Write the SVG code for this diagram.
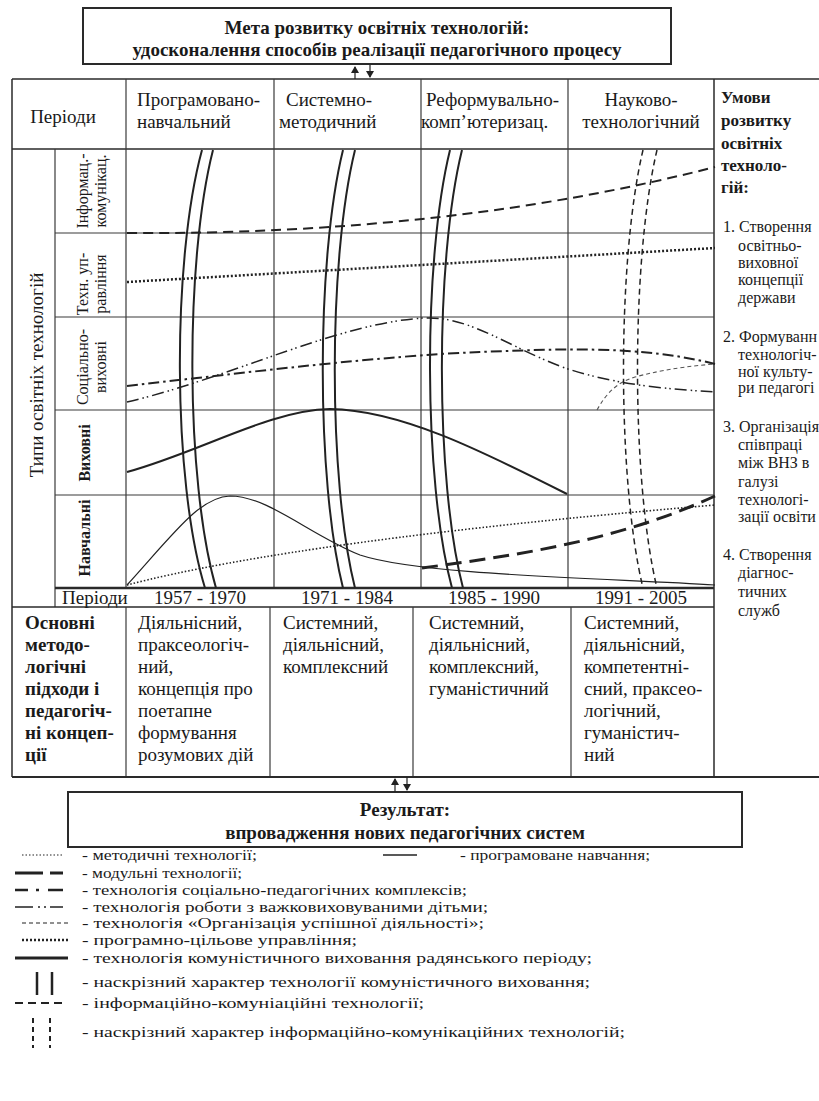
<svg xmlns="http://www.w3.org/2000/svg" width="819" height="1101" viewBox="0 0 819 1101">
<defs>
<style>
text{font-family:"Liberation Serif","DejaVu Serif",serif;fill:#1a1a1a}
.t19{font-size:19px}
.b19{font-size:19px;font-weight:bold}
.b17{font-size:17px;font-weight:bold}
.l16{font-size:16px}
.lg{font-size:15px}
.s16{font-size:16px}
.mid{text-anchor:middle}
.frame{fill:none;stroke:#2a2a2a;stroke-width:1.5}
.grid{stroke:#3a3a3a;stroke-width:1.2;fill:none}
.thick{stroke:#2a2a2a;stroke-width:2.5;fill:none}
.c{fill:none;stroke:#222}
.ict{stroke-width:2;stroke-dasharray:10 6}
.mgmt{stroke-width:2.5;stroke-dasharray:2 2}
.social{stroke-width:2;stroke-dasharray:11 4 2.5 4}
.hard{stroke-width:1.5;stroke-dasharray:12 4 1.5 3 1.5 4}
.success{stroke-width:1.1;stroke-dasharray:4 3;stroke:#555}
.commun{stroke-width:2}
.prog{stroke-width:1.2}
.method{stroke-width:1.6;stroke-dasharray:1.5 2}
.modul{stroke-width:3;stroke-dasharray:16 8}
.thr{stroke-width:2}
.thrict{stroke-width:1.5;stroke-dasharray:6 4}
.arr{stroke:#222;stroke-width:1.2;fill:none}
</style>
<marker id="ah" markerWidth="8" markerHeight="8" refX="6" refY="4" orient="auto" markerUnits="userSpaceOnUse">
<path d="M0,0 L7,4 L0,8 Z" fill="#222"/>
</marker>
</defs>
<rect width="819" height="1101" fill="#fff"/>

<g id="goal">
<rect class="frame" x="83" y="8" width="588" height="56" style="stroke-width:2"/>
<text class="b19 mid" x="377" y="34">Мета розвитку освітніх технологій:</text>
<text class="b19 mid" x="377" y="56">удосконалення способів реалізації педагогічного процесу</text>
</g>

<g id="table-grid">
<line class="frame" x1="12" y1="79" x2="819" y2="79"/>
<line class="frame" x1="12" y1="79" x2="12" y2="777"/>
<line class="frame" x1="12" y1="149" x2="714" y2="149"/>
<line class="grid" x1="126" y1="79" x2="126" y2="588"/>
<line class="grid" x1="274" y1="79" x2="274" y2="588"/>
<line class="grid" x1="421" y1="79" x2="421" y2="588"/>
<line class="grid" x1="568" y1="79" x2="568" y2="588"/>
<line class="frame" x1="714" y1="79" x2="714" y2="777"/>
<line class="grid" x1="55" y1="149" x2="55" y2="607"/>
<line class="grid" x1="55" y1="233" x2="714" y2="233"/>
<line class="grid" x1="55" y1="317" x2="714" y2="317"/>
<line class="grid" x1="55" y1="410" x2="714" y2="410"/>
<line class="grid" x1="55" y1="495" x2="714" y2="495"/>
<line class="thick" x1="55" y1="588" x2="714" y2="588"/>
<line class="frame" x1="12" y1="607" x2="714" y2="607"/>
<line class="grid" x1="126" y1="607" x2="126" y2="777"/>
<line class="grid" x1="270" y1="607" x2="270" y2="777"/>
<line class="grid" x1="413" y1="607" x2="413" y2="777"/>
<line class="grid" x1="571" y1="607" x2="571" y2="777"/>
<line class="frame" x1="12" y1="777" x2="819" y2="777" style="stroke-width:2"/>
</g>

<g id="header">
<text class="t19 mid" x="63" y="123">Періоди</text>
<text class="t19" x="137" y="106">Програмовано-</text>
<text class="t19" x="137" y="128">навчальний</text>
<text class="t19" x="286" y="106">Системно-</text>
<text class="t19" x="279" y="128">методичний</text>
<text class="t19" x="426" y="106">Реформувально-</text>
<text class="t19" x="421" y="128">комп’ютеризац.</text>
<text class="t19 mid" x="641" y="106">Науково-</text>
<text class="t19 mid" x="641" y="128">технологічний</text>
</g>

<g id="conditions">
<text class="b17" x="721" y="103">Умови</text>
<text class="b17" x="721" y="126">розвитку</text>
<text class="b17" x="721" y="149">освітніх</text>
<text class="b17" x="721" y="171">техноло-</text>
<text class="b17" x="721" y="193">гій:</text>
<text class="l16" x="723" y="232">1. Створення</text>
<text class="l16" x="738" y="251">освітньо-</text>
<text class="l16" x="738" y="268">виховної</text>
<text class="l16" x="738" y="285">концепції</text>
<text class="l16" x="738" y="303">держави</text>
<text class="l16" x="723" y="342">2. Формуванн</text>
<text class="l16" x="738" y="360">технологіч-</text>
<text class="l16" x="738" y="377">ної культу-</text>
<text class="l16" x="738" y="393">ри педагогі</text>
<text class="l16" x="723" y="432">3. Організація</text>
<text class="l16" x="738" y="450">співпраці</text>
<text class="l16" x="738" y="468">між ВНЗ в</text>
<text class="l16" x="738" y="487">галузі</text>
<text class="l16" x="738" y="505">технологі-</text>
<text class="l16" x="738" y="522">зації освіти</text>
<text class="l16" x="723" y="560">4. Створення</text>
<text class="l16" x="738" y="578">діагнос-</text>
<text class="l16" x="738" y="597">тичних</text>
<text class="l16" x="738" y="616">служб</text>
</g>

<g id="type-labels">
<text class="t19 mid" transform="translate(43,375) rotate(-90)">Типи освітніх технологій</text>
<text class="s16 mid" transform="translate(88,191) rotate(-90)">Інформац.-</text>
<text class="s16 mid" transform="translate(106,191) rotate(-90)">комунікац.</text>
<text class="s16 mid" transform="translate(88,284) rotate(-90)">Техн. уп-</text>
<text class="s16 mid" transform="translate(106,284) rotate(-90)">равління</text>
<text class="s16 mid" transform="translate(88,367) rotate(-90)">Соціально-</text>
<text class="s16 mid" transform="translate(106,367) rotate(-90)">виховні</text>
<text class="s16 mid" transform="translate(90,453) rotate(-90)" style="font-weight:bold">Виховні</text>
<text class="s16 mid" transform="translate(90,538) rotate(-90)" style="font-weight:bold">Навчальні</text>
</g>

<g id="periods">
<text class="t19" x="62" y="604">Періоди</text>
<text class="t19 mid" x="200" y="604">1957 - 1970</text>
<text class="t19 mid" x="347" y="604">1971 - 1984</text>
<text class="t19 mid" x="494" y="604">1985 - 1990</text>
<text class="t19 mid" x="641" y="604">1991 - 2005</text>
</g>

<g id="approaches">
<text class="b19" x="25" y="629">Основні</text>
<text class="b19" x="25" y="651">методо-</text>
<text class="b19" x="25" y="673">логічні</text>
<text class="b19" x="25" y="695">підходи і</text>
<text class="b19" x="25" y="717">педагогіч-</text>
<text class="b19" x="25" y="739">ні концеп-</text>
<text class="b19" x="25" y="761">ції</text>
<text class="t19" x="138" y="629">Діяльнісний,</text>
<text class="t19" x="138" y="651">праксеологіч-</text>
<text class="t19" x="138" y="673">ний,</text>
<text class="t19" x="138" y="695">концепція про</text>
<text class="t19" x="138" y="717">поетапне</text>
<text class="t19" x="138" y="739">формування</text>
<text class="t19" x="138" y="761">розумових дій</text>
<text class="t19" x="283" y="629">Системний,</text>
<text class="t19" x="283" y="651">діяльнісний,</text>
<text class="t19" x="283" y="673">комплексний</text>
<text class="t19" x="429" y="629">Системний,</text>
<text class="t19" x="429" y="651">діяльнісний,</text>
<text class="t19" x="429" y="673">комплексний,</text>
<text class="t19" x="429" y="695">гуманістичний</text>
<text class="t19" x="584" y="629">Системний,</text>
<text class="t19" x="584" y="651">діяльнісний,</text>
<text class="t19" x="584" y="673">компетентні-</text>
<text class="t19" x="584" y="695">сний, праксео-</text>
<text class="t19" x="584" y="717">логічний,</text>
<text class="t19" x="584" y="739">гуманістич-</text>
<text class="t19" x="584" y="761">ний</text>
</g>

<g id="result">
<rect class="frame" x="68" y="792" width="674" height="55" style="stroke-width:2"/>
<text class="b19 mid" x="405" y="816">Результат:</text>
<text class="b19 mid" x="405" y="839">впровадження нових педагогічних систем</text>
</g>

<g id="connectors">
<line class="arr" x1="355" y1="79" x2="355" y2="67" marker-end="url(#ah)"/>
<line class="arr" x1="370" y1="65" x2="370" y2="77" marker-end="url(#ah)"/>
<line class="arr" x1="395" y1="792" x2="395" y2="779" marker-end="url(#ah)"/>
<line class="arr" x1="407" y1="777" x2="407" y2="790" marker-end="url(#ah)"/>
</g>

<g id="curves">
<path class="c ict" d="M127,233 Q450,235 715,167"/>
<path class="c mgmt" d="M127,282 L715,248"/>
<path class="c social" d="M127,386 C250,372 380,356 480,352 C560,349 640,345 715,364"/>
<path class="c hard" d="M127,402 C230,378 340,322 425,318 C470,316 510,348 565,368 C620,386 670,389 715,392"/>
<path class="c success" d="M597,410 C607,392 618,382 635,377 C665,369 690,366 715,364"/>
<path class="c commun" d="M127,472 C200,452 270,410 330,409 C400,410 480,450 567,494"/>
<path class="c prog" d="M127,585 C175,532 200,497 230,496 C268,496 310,535 360,555 C420,575 600,578 715,585"/>
<path class="c method" d="M127,585 Q300,540 715,505"/>
<path class="c modul" d="M422,568 C520,555 620,540 715,496"/>
</g>

<g id="through-lines">
<path class="c thr" d="M202,150 C172,260 172,480 205,588"/>
<path class="c thr" d="M213,150 C185,260 185,480 216,588"/>
<path class="c thr" d="M343,150 C316,260 316,480 343,588"/>
<path class="c thr" d="M355,150 C328,260 328,480 355,588"/>
<path class="c thr" d="M450,150 C423,260 423,480 452,588"/>
<path class="c thr" d="M462,150 C435,260 435,480 463,588"/>
<path class="c thrict" d="M643,150 C617,260 617,480 643,588"/>
<path class="c thrict" d="M657,150 C631,260 631,480 657,588"/>
</g>

<g id="legend">
<line class="c" x1="22" y1="855" x2="63" y2="855" style="stroke-width:1.2;stroke-dasharray:1.5 2"/>
<text class="lg" x="82" y="860" textLength="175" lengthAdjust="spacingAndGlyphs">- методичні технології;</text>
<line class="c" x1="383" y1="855" x2="417" y2="855" style="stroke-width:1.5"/>
<text class="lg" x="460" y="860" textLength="190" lengthAdjust="spacingAndGlyphs">- програмоване навчання;</text>
<path class="c" d="M15,873 H43 M50,873 H63" style="stroke-width:3"/>
<text class="lg" x="82" y="878" textLength="160" lengthAdjust="spacingAndGlyphs">- модульні технології;</text>
<path class="c" d="M15,890 H28 M36,890 H39 M48,890 H63" style="stroke-width:2.5"/>
<text class="lg" x="82" y="895" textLength="385" lengthAdjust="spacingAndGlyphs">- технологія соціально-педагогічних комплексів;</text>
<path class="c" d="M15,907 H33 M38,907 H40 M44,907 H46 M50,907 H63" style="stroke-width:1.5"/>
<text class="lg" x="82" y="912" textLength="406" lengthAdjust="spacingAndGlyphs">- технологія роботи  з важковиховуваними дітьми;</text>
<line class="c" x1="22" y1="923" x2="68" y2="923" style="stroke-width:1.1;stroke-dasharray:4 3"/>
<text class="lg" x="82" y="928" textLength="402" lengthAdjust="spacingAndGlyphs">- технологія «Організація успішної діяльності»;</text>
<line class="c" x1="22" y1="940" x2="68" y2="940" style="stroke-width:2.5;stroke-dasharray:2 2"/>
<text class="lg" x="82" y="945" textLength="275" lengthAdjust="spacingAndGlyphs">- програмно-цільове управління;</text>
<line class="c" x1="15" y1="958" x2="68" y2="958" style="stroke-width:3"/>
<text class="lg" x="82" y="963" textLength="510" lengthAdjust="spacingAndGlyphs">- технологія комуністичного виховання радянського періоду;</text>
<path class="c" d="M37,972 V995 M52,972 V995" style="stroke-width:2.5"/>
<text class="lg" x="82" y="987" textLength="508" lengthAdjust="spacingAndGlyphs">- наскрізний характер технології комуністичного виховання;</text>
<line class="c" x1="15" y1="1003" x2="63" y2="1003" style="stroke-width:2;stroke-dasharray:8 5"/>
<text class="lg" x="82" y="1008" textLength="342" lengthAdjust="spacingAndGlyphs">- інформаційно-комуніаційні технології;</text>
<path class="c" d="M33,1018 V1048 M50,1018 V1048" style="stroke-width:2;stroke-dasharray:5 4"/>
<text class="lg" x="82" y="1037" textLength="543" lengthAdjust="spacingAndGlyphs">- наскрізний характер інформаційно-комунікаційних технологій;</text>
</g>
</svg>
